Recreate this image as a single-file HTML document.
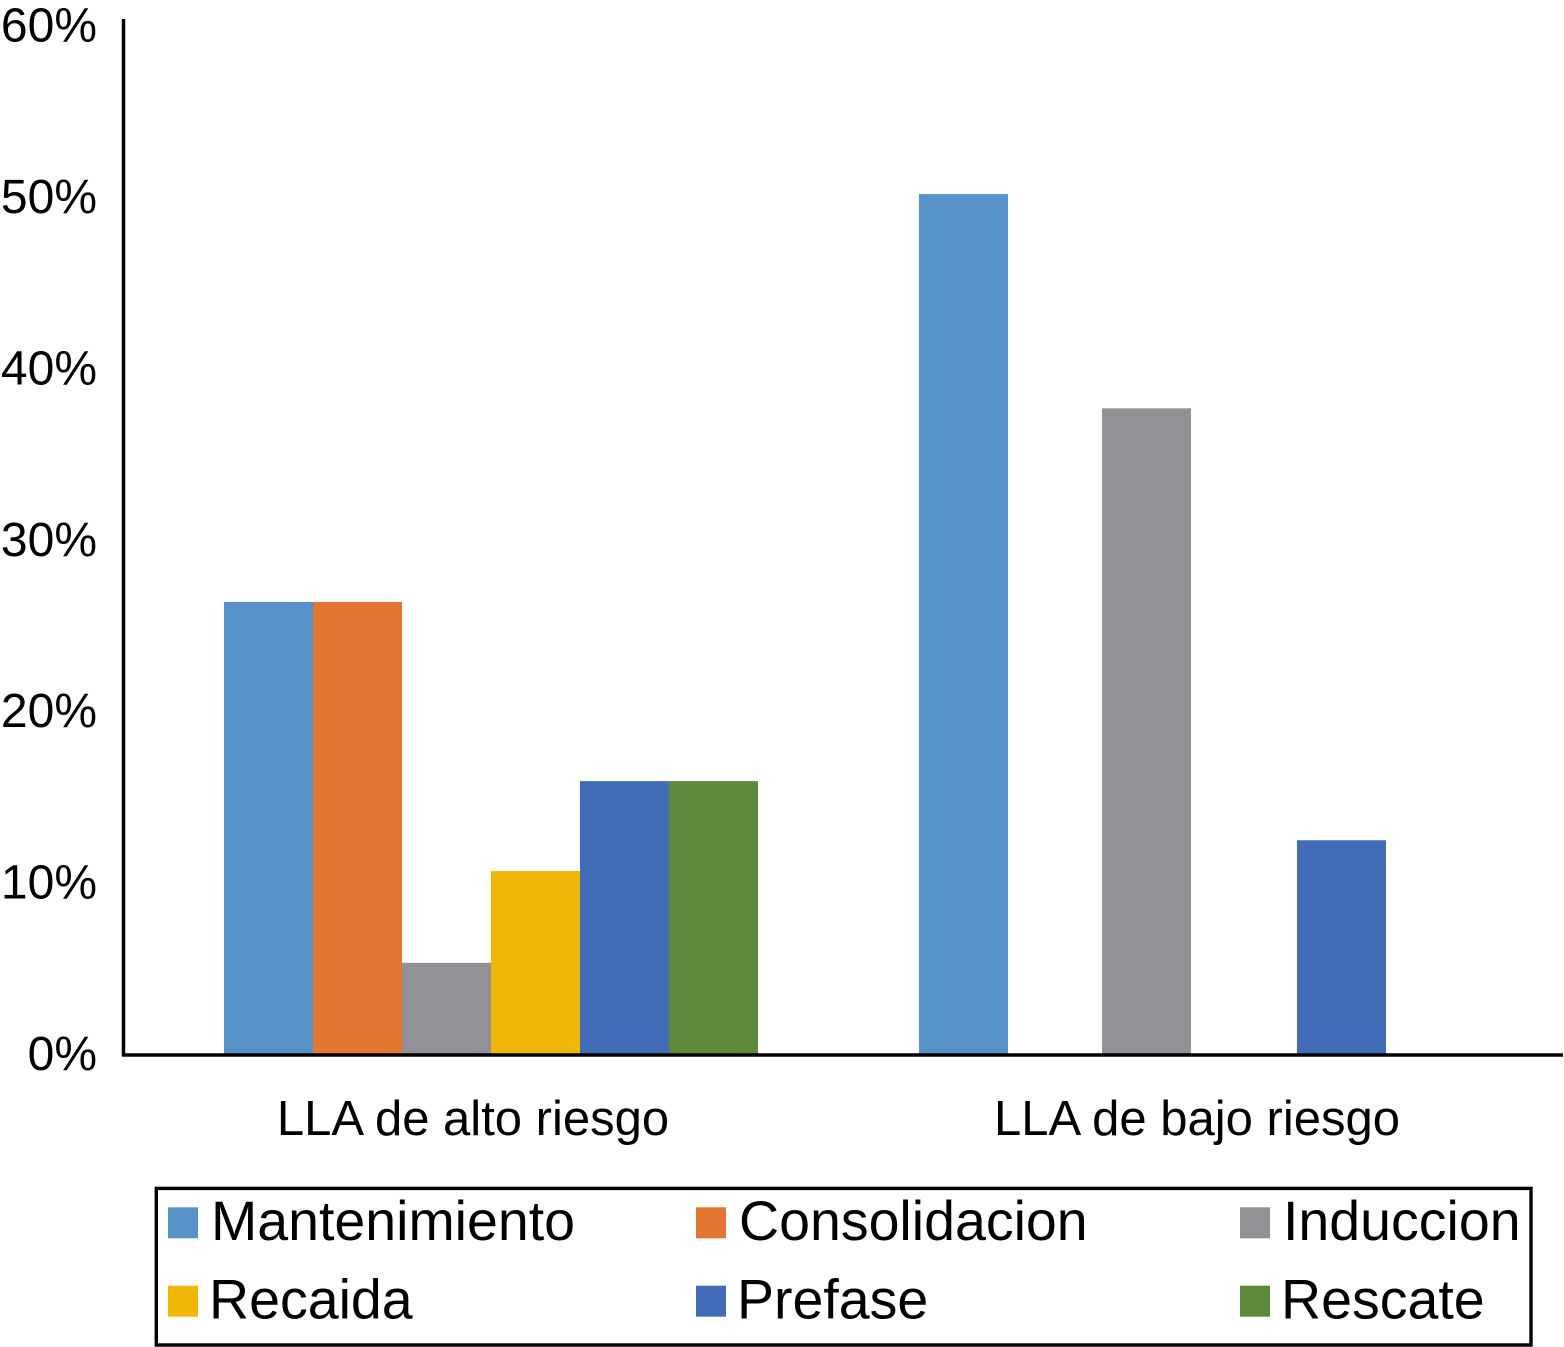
<!DOCTYPE html>
<html lang="es">
<head>
<meta charset="utf-8">
<title>LLA chart</title>
<style>
html,body{margin:0;padding:0;background:#fff;width:1564px;height:1347px;overflow:hidden}
svg{display:block}
text{font-family:"Liberation Sans",Arial,sans-serif;fill:#000}
</style>
</head>
<body>
<svg id="chart" width="1564" height="1347" viewBox="0 0 1564 1347" xmlns="http://www.w3.org/2000/svg"></svg>
<script>
const categories = ["LLA de alto riesgo", "LLA de bajo riesgo"];
const seriesNames = ["Mantenimiento", "Consolidacion", "Induccion", "Recaida", "Prefase", "Rescate"];
const altoRiesgo = [26.4, 26.4, 5.35, 10.7, 15.95, 15.95];
const bajoRiesgo = [50.2, 0, 37.7, 0, 12.5, 0];
const yTicks = [0, 10, 20, 30, 40, 50, 60];
const seriesColors = ["#5793c8", "#e17730", "#949196", "#f0b706", "#436cb8", "#5e8b3b"];

const NS = "http://www.w3.org/2000/svg";
const svg = document.getElementById("chart");
const Y0 = 1054.5, PX_PER_PCT = 17.14, BAR_W = 89;
function yScale(v) { return Y0 - v * PX_PER_PCT; }
function xAlto(i) { return 224 + i * BAR_W; }
function xBajo(i) { return 919 + i * 91.5 + (i > 2 ? (i - 2) * 6 : 0); }
function add(tag, attrs, text) {
  const el = document.createElementNS(NS, tag);
  for (const k in attrs) el.setAttribute(k, attrs[k]);
  if (text !== undefined) el.textContent = text;
  svg.appendChild(el);
  return el;
}
function drawBars(values, xFn, group) {
  values.forEach((v, i) => {
    if (!v) return;
    const el = add("rect", { x: xFn(i), y: yScale(v), width: BAR_W, height: Y0 - yScale(v), fill: seriesColors[i] });
    
    
  });
}
drawBars(altoRiesgo, xAlto, 'alto-riesgo');
drawBars(bajoRiesgo, xBajo, 'bajo-riesgo');

const yAxis = add("line", { x1: 123.5, y1: 19, x2: 123.5, y2: 1056, stroke: "#000", "stroke-width": 3.5 });


const xAxis = add("line", { x1: 122, y1: 1055, x2: 1563, y2: 1055, stroke: "#000", "stroke-width": 3.6 });



yTicks.forEach(t => {
  const el = add("text", { x: 97, y: yScale(t) + 15.5, "text-anchor": "end", "font-size": 48 }, t + "%");
  
  
});

const categoryCenters = [473, 1197];
categories.forEach((c, i) => {
  const el = add("text", { x: categoryCenters[i], y: 1135, "text-anchor": "middle", "font-size": 49 }, c);
  
  
});

const legendBox = add("rect", { x: 156.3, y: 1188.4, width: 1374.7, height: 156.6, fill: "none", stroke: "#000", "stroke-width": 3.4 });


const legendSwatchX = [168, 696, 1240];
const legendTextX = [211, 739, 1283];
const legendSwatchY = [1207.3, 1285.7];
const legendBaseY = [1240, 1318.5];
seriesNames.forEach((name, i) => {
  const col = i % 3, row = Math.floor(i / 3);
  const sw = add("rect", { x: legendSwatchX[col], y: legendSwatchY[row], width: 30, height: 31, fill: seriesColors[i] });
  
  
  const tx = add("text", { x: legendTextX[col] - row * 2, y: legendBaseY[row], "font-size": 55.5 }, name);
  
  
});
</script>
</body>
</html>
